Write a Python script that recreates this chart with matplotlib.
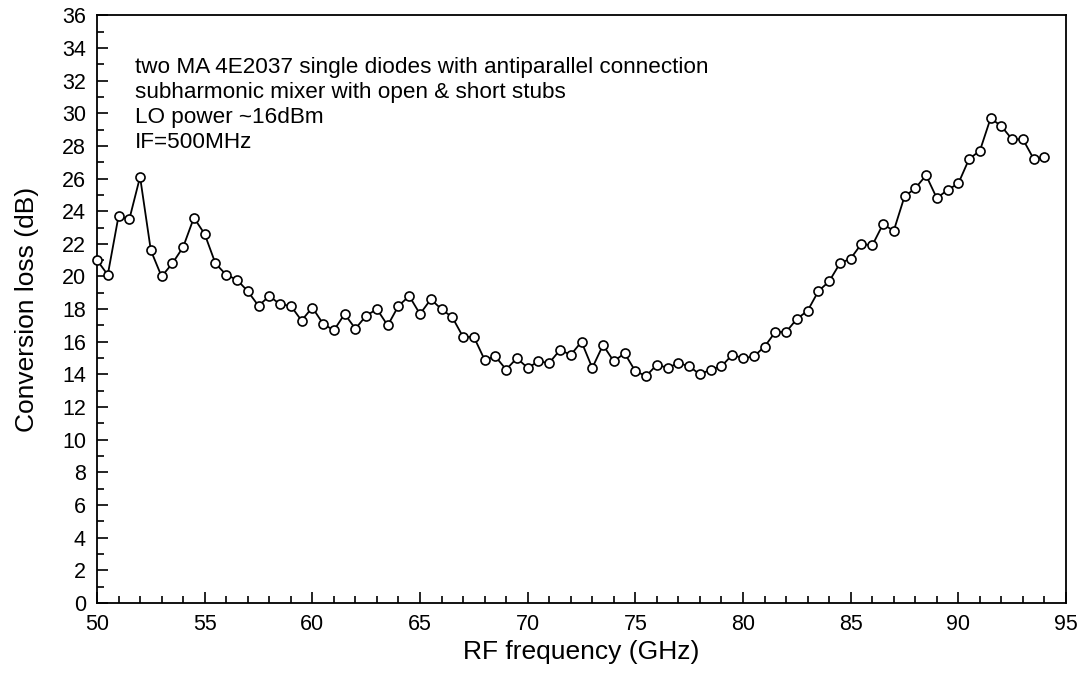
import matplotlib
matplotlib.use('Agg')
import matplotlib.pyplot as plt
import numpy as np
from matplotlib.ticker import MultipleLocator

plt.rcParams['font.family'] = ['Liberation Sans', 'DejaVu Sans']

# RF frequency (GHz), 0.5 GHz steps
freq = np.arange(50.0, 94.01, 0.5)
# Conversion loss (dB)
loss = [21.0, 20.1, 23.7, 23.5, 26.1, 21.6, 20.0, 20.8, 21.8, 23.6,
        22.6, 20.8, 20.1, 19.8, 19.1, 18.2, 18.8, 18.3, 18.2, 17.3,
        18.1, 17.1, 16.7, 17.7, 16.8, 17.6, 18.0, 17.0, 18.2, 18.8,
        17.7, 18.6, 18.0, 17.5, 16.3, 16.3, 14.9, 15.1, 14.3, 15.0,
        14.4, 14.8, 14.7, 15.5, 15.2, 16.0, 14.4, 15.8, 14.8, 15.3,
        14.2, 13.9, 14.6, 14.4, 14.7, 14.5, 14.0, 14.3, 14.5, 15.2,
        15.0, 15.1, 15.7, 16.6, 16.6, 17.4, 17.9, 19.1, 19.7, 20.8,
        21.1, 22.0, 21.9, 23.2, 22.8, 24.9, 25.4, 26.2, 24.8, 25.3,
        25.7, 27.2, 27.7, 29.7, 29.2, 28.4, 28.4, 27.2, 27.3]

notes = ["two MA 4E2037 single diodes with antiparallel connection",
         "subharmonic mixer with open & short stubs",
         "LO power ~16dBm",
         "IF=500MHz"]

fig = plt.figure(figsize=(10.85, 6.95), dpi=100)
ax = fig.add_axes([0.0894, 0.1324, 0.8931, 0.8456])

ax.plot(freq, loss, color='black', linewidth=1.3, marker='o', markersize=6.5,
        markerfacecolor='white', markeredgecolor='black', markeredgewidth=1.2,
        zorder=3, clip_on=False)

ax.set_xlim(50, 95)
ax.set_ylim(0, 36)
ax.xaxis.set_major_locator(MultipleLocator(5))
ax.xaxis.set_minor_locator(MultipleLocator(1))
ax.yaxis.set_major_locator(MultipleLocator(2))
ax.yaxis.set_minor_locator(MultipleLocator(1))
ax.tick_params(which='both', direction='in', top=False, right=False,
               labelsize=15.5, width=1.2)
ax.tick_params(which='major', length=8)
ax.tick_params(which='minor', length=5)
ax.tick_params(axis='x', pad=8)
ax.tick_params(axis='y', pad=8)
for s in ax.spines.values():
    s.set_linewidth(1.3)

ax.set_xlabel('RF frequency (GHz)', fontsize=19)
ax.set_ylabel('Conversion loss (dB)', fontsize=19)
ax.xaxis.set_label_coords(0.5, -0.063)
ax.yaxis.set_label_coords(-0.06, 0.5)

for i, line in enumerate(notes):
    ax.text(51.75, 32.8 - i * 1.53, line, fontsize=16.2, va='center', ha='left')

fig.savefig('out.png', dpi=100)
